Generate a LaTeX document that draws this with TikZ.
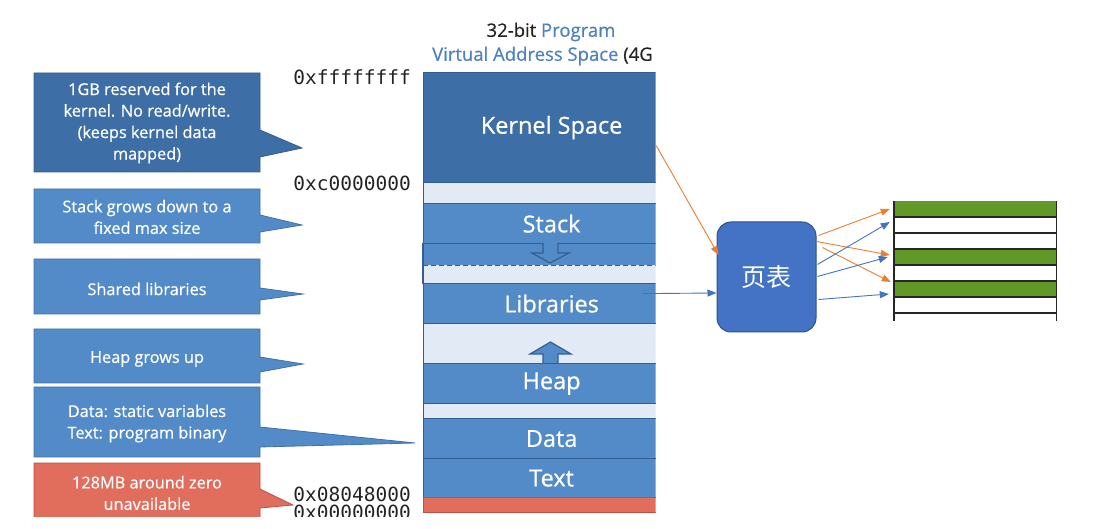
\documentclass[tikz,border=0pt]{standalone}
\usepackage{fontspec}
\setmainfont{Open Sans}[FakeBold=0.6]
\newfontfamily\cjk{Noto Sans CJK SC}
\newfontfamily\addrfont{DejaVu Sans Mono}
\usetikzlibrary{arrows.meta,calc}
\definecolor{kblue}{RGB}{62,110,166}
\definecolor{mblue}{RGB}{82,139,200}
\definecolor{eblue}{RGB}{52,94,146}
\definecolor{cedge}{RGB}{66,112,168}
\definecolor{lgap}{RGB}{226,234,246}
\definecolor{rred}{RGB}{225,109,92}
\definecolor{redge}{RGB}{190,80,66}
\definecolor{tblue}{RGB}{79,129,189}
\definecolor{ptblue}{RGB}{68,114,196}
\definecolor{ptedge}{RGB}{47,82,143}
\definecolor{aorange}{RGB}{237,125,49}
\definecolor{ablue}{RGB}{68,114,196}
\definecolor{mgreen}{RGB}{96,153,38}
\definecolor{ink}{RGB}{35,35,35}
\begin{document}
\begin{tikzpicture}[x=1pt,y=-1pt,
  seg/.style={draw=eblue, line width=1.2pt, minimum width=256pt, inner sep=0pt,
    anchor=north west, text=white, font=\fontsize{23.5}{27}\selectfont},
  callk/.style={fill=kblue, draw=eblue, line width=0.8pt},
  callm/.style={fill=mblue, draw=cedge, line width=0.8pt},
  callr/.style={fill=rred, draw=redge, line width=0.8pt},
  ctext/.style={align=center, text=white, inner sep=0pt, font=\fontsize{16.3}{21.5}\selectfont},
  addr/.style={anchor=east, text=ink, inner sep=0pt, font=\addrfont\fontsize{19.5}{19.5}\selectfont},
  growarrow/.style={draw=eblue, line width=1.2pt},
  row/.style={minimum width=162pt, minimum height=16pt, inner sep=0pt, draw=none},
  tline/.style={draw=black!85, line width=1.4pt},
  conno/.style={draw=aorange, line width=0.9pt, -{Triangle[length=9pt,width=7pt]}},
  connb/.style={draw=ablue, line width=0.9pt, -{Triangle[length=9pt,width=7pt]}}
]
\useasboundingbox (0,0) rectangle (1104,529);

\begin{scope}
\clip (0,0) rectangle (655.5,516);
% title
\node[text=ink, font=\fontsize{18.5}{22}\selectfont] (t1) at (551,32) {32-bit \textcolor{tblue}{Program}};
\node[anchor=west, text=ink, inner sep=0pt, font=\fontsize{18.5}{22}\selectfont] (t2) at (432,56) {\textcolor{tblue}{Virtual Address Space} (4G};

% address column
\node[seg, fill=kblue, minimum height=110pt] (kern) at (423,72) {Kernel Space};
\node[seg, fill=lgap, minimum height=21pt] (g1) at (423,182) {};
\node[seg, fill=mblue, minimum height=40pt] (stack) at (423,203) {Stack};
\node[seg, fill=mblue, draw=none, minimum height=21pt] (band) at (423,243) {};
\node[seg, fill=lgap, draw=none, minimum height=19pt] (g2) at (423,264) {};
\draw[eblue, line width=1.2pt] (band.north west) -- (g2.south west);
\node[seg, fill=mblue, minimum height=40pt] (lib) at (423,283) {Libraries};
\node[seg, fill=lgap, minimum height=40pt] (g3) at (423,323) {};
\node[seg, fill=mblue, minimum height=40pt] (heap) at (423,363) {Heap};
\node[seg, fill=lgap, minimum height=15pt] (g4) at (423,403) {};
\node[seg, fill=mblue, minimum height=40pt] (data) at (423,418) {Data};
\node[seg, fill=mblue, minimum height=39pt] (text) at (423,458) {Text};
\node[seg, fill=rred, draw=redge, minimum height=15pt] (zero) at (423,497) {};
\draw[eblue, line width=1.3pt, dash pattern=on 5pt off 3pt] (band.south west) -- (band.south east);
% stack grows down (hollow arrow)
\draw[growarrow, fill=mblue] (543,243) -- (543,253) -- (532,253) -- (550,263) -- (569,253) -- (558,253) -- (558,243);
% heap grows up (filled arrow)
\draw[growarrow, fill=mblue] (543,363) -- (543,354) -- (530,354) -- (550.5,342) -- (571,354) -- (558,354) -- (558,363);

% callouts
\draw[callk] (34,73) -- (260,73) -- (260,130) -- (302,148) -- (260,157) -- (260,172) -- (34,172) -- cycle;
\node[ctext] (c1) at (147,123) {1GB reserved for the\\kernel. No read/write.\\(keeps kernel data\\mapped)};
\draw[callm] (34,189) -- (260,189) -- (260,215) -- (302,225) -- (260,232) -- (260,243) -- (34,243) -- cycle;
\node[ctext] (c2) at (147,217) {Stack grows down to a\\fixed max size};
\draw[callm] (34,259) -- (260,259) -- (260,288) -- (303,294) -- (260,300) -- (260,314) -- (34,314) -- cycle;
\node[ctext] (c3) at (147,289) {Shared libraries};
\draw[callm] (34,329) -- (260,329) -- (260,357) -- (303,364) -- (260,372) -- (260,383) -- (34,383) -- cycle;
\node[ctext] (c4) at (147,359) {Heap grows up};
\draw[callm] (34,387) -- (260,387) -- (260,427) -- (415,443) -- (260,447) -- (260,457) -- (34,457) -- cycle;
\node[ctext] (c5) at (147,423.5) {Data: static variables\\Text: program binary};
\draw[callr] (34,463) -- (260,463) -- (260,489) -- (293,505) -- (260,508) -- (260,522) -- (34,522) -- cycle;
\node[ctext] (c6) at (147,493) {128MB around zero\\unavailable};

% addresses
\node[addr] (a1) at (411,77) {0xffffffff};
\node[addr] (a2) at (411,183) {0xc0000000};
\node[addr] (a3) at (411,494) {0x08048000};
\node[addr] (a4) at (411,512) {0x00000000};
\end{scope}

% page table
\node[draw=ptedge, fill=ptblue, rounded corners=14pt, minimum width=99pt, minimum height=110pt,
  line width=1pt, text=white, font=\cjk\fontsize{25}{25}\selectfont] (pt) at (766.5,277) {页表};

% physical memory table
\node[row, fill=mgreen] (r1) at (975,209) {};
\node[row, fill=white] (r2) at (975,225) {};
\node[row, fill=white] (r3) at (975,241) {};
\node[row, fill=mgreen] (r4) at (975,257) {};
\node[row, fill=white] (r5) at (975,273) {};
\node[row, fill=mgreen] (r6) at (975,289) {};
\node[row, fill=white] (r7) at (975,305) {};
\foreach \r in {r1,r2,r3,r4,r5,r6,r7}{\draw[tline] (\r.south west) -- (\r.south east);}
\draw[tline] (r1.north west) -- ([shift={(0,8)}]r7.south west);
\draw[tline] (r1.north east) -- ([shift={(0,8)}]r7.south east);

% connectors
\draw[conno] ([shift={(-24,18)}]kern.east) -- ([shift={(2,-22)}]pt.west);
\draw[connb] ([shift={(-37,-10)}]lib.east) -- ([shift={(0,16)}]pt.west);
\draw[conno] ([shift={(2,14)}]pt.north east) -- ([shift={(-4,0)}]r1.west);
\draw[conno] ([shift={(0,20)}]pt.north east) -- ([shift={(-4,-2)}]r4.west);
\draw[conno] ([shift={(6,26)}]pt.north east) -- ([shift={(-3,-7)}]r6.west);
\draw[connb] ([shift={(1,43)}]pt.north east) -- ([shift={(-4,-3)}]r2.west);
\draw[connb] ([shift={(1,55)}]pt.north east) -- ([shift={(-6,0)}]r4.west);
\draw[connb] ([shift={(2,78)}]pt.north east) -- ([shift={(-5,5)}]r6.west);
\end{tikzpicture}
\end{document}
